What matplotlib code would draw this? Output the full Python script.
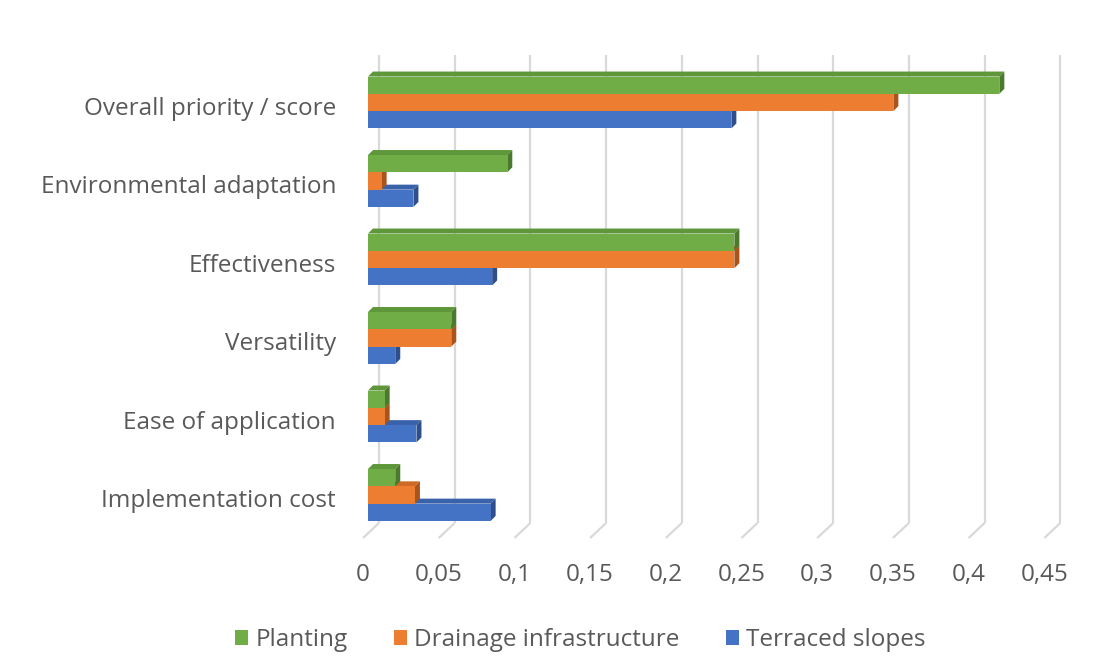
import matplotlib
matplotlib.use("Agg")
import matplotlib.pyplot as plt
from matplotlib.patches import Patch, Polygon
import numpy as np

# ---------------- data ----------------
categories = ["Overall priority / score", "Environmental adaptation", "Effectiveness",
              "Versatility", "Ease of application", "Implementation cost"]
series_names = ["Planting", "Drainage infrastructure", "Terraced slopes"]
planting = [0.417, 0.092, 0.242, 0.055, 0.011, 0.018]
drainage = [0.347, 0.009, 0.242, 0.055, 0.011, 0.031]
terraced = [0.240, 0.030, 0.082, 0.018, 0.032, 0.081]
xticks = [0, 0.05, 0.1, 0.15, 0.2, 0.25, 0.3, 0.35, 0.4, 0.45]
xtick_labels = ["0", "0,05", "0,1", "0,15", "0,2", "0,25", "0,3", "0,35", "0,4", "0,45"]

# ---------------- style ----------------
front_colors = ["#70AD47", "#ED7D31", "#4472C4"]
top_colors = ["#5E973A", "#CF6A26", "#3A62AA"]
side_colors = ["#4B7A2E", "#A9541C", "#2E4F8C"]
text_color = "#595959"
grid_color = "#D9D9D9"
font = "Open Sans"
fs = 17.5

W, H = 1114, 666
fig = plt.figure(figsize=(W / 100, H / 100), dpi=100)
fig.patch.set_facecolor("white")

ax_left_px, ax_top_px, ax_bottom_px = 368, 55, 538
ax_w_px = 681.3
ax_h_px = ax_bottom_px - ax_top_px
ax = fig.add_axes([ax_left_px / W, (H - ax_bottom_px) / H, ax_w_px / W, ax_h_px / H])
ylo, yhi = -0.548, 5.605
ax.set_xlim(0, 0.45)
ax.set_ylim(ylo, yhi)
ax.axis("off")

sx = 0.45 / ax_w_px          # data units per pixel (x)
sy = (yhi - ylo) / ax_h_px   # data units per pixel (y)

# ---------------- gridlines (back wall + floor) ----------------
y_wall_bottom = ylo + 15 * sy
for t in xticks:
    xb = t + 11 * sx
    ax.plot([xb, xb], [y_wall_bottom, yhi], color=grid_color, lw=1.6, zorder=1,
            clip_on=False, solid_capstyle="butt")
    ax.plot([xb, t - 5 * sx], [y_wall_bottom, ylo], color=grid_color, lw=1.6, zorder=1,
            clip_on=False, solid_capstyle="butt")

for t, lab in zip(xticks, xtick_labels):
    ax.text(t - 5 * sx, ylo - 37 * sy, lab, ha="center", va="center",
            fontsize=fs, color=text_color, family=font, clip_on=False)

# ---------------- 3D bars ----------------
n = len(categories)
ypos = np.arange(n)[::-1]  # first category at top
h = 17.3 / 78.5
dx, dy = 5 * sx, 5 * sy
series = [planting, drainage, terraced]
offsets = [h, 0.0, -h]

# draw from bottom bar (terraced) to top bar (planting)
for k in [2, 1, 0]:
    vals = series[k]
    z = 3 + (2 - k)
    yc = ypos + offsets[k]
    ax.barh(yc, vals, height=h, left=0, color=front_colors[k], zorder=z + 0.5,
            edgecolor="none")
    for v, y in zip(vals, yc):
        yt, yb = y + h / 2, y - h / 2
        top = Polygon([(0, yt), (v, yt), (v + dx, yt + dy), (dx, yt + dy)],
                      closed=True, facecolor=top_colors[k], edgecolor="none", zorder=z)
        side = Polygon([(v, yb), (v, yt), (v + dx, yt + dy), (v + dx, yb + dy)],
                       closed=True, facecolor=side_colors[k], edgecolor="none", zorder=z)
        ax.add_patch(top)
        ax.add_patch(side)

# ---------------- category labels ----------------
for cat, y in zip(categories, ypos):
    ax.text(-32 * sx, y - 6.5 * sy, cat, ha="right", va="center",
            fontsize=fs, color=text_color, family=font, clip_on=False)

# ---------------- legend ----------------
handles = [Patch(facecolor=c, edgecolor="none", label=s)
           for c, s in zip(front_colors, series_names)]
leg = fig.legend(handles=handles, loc="center", bbox_to_anchor=(0.521, 0.039), ncol=3,
                 frameon=False, handlelength=0.53, handleheight=0.53,
                 columnspacing=1.9, handletextpad=0.3,
                 prop={"family": font, "size": fs})
for t in leg.get_texts():
    t.set_color(text_color)

fig.savefig("out.png", dpi=100, facecolor="white")
